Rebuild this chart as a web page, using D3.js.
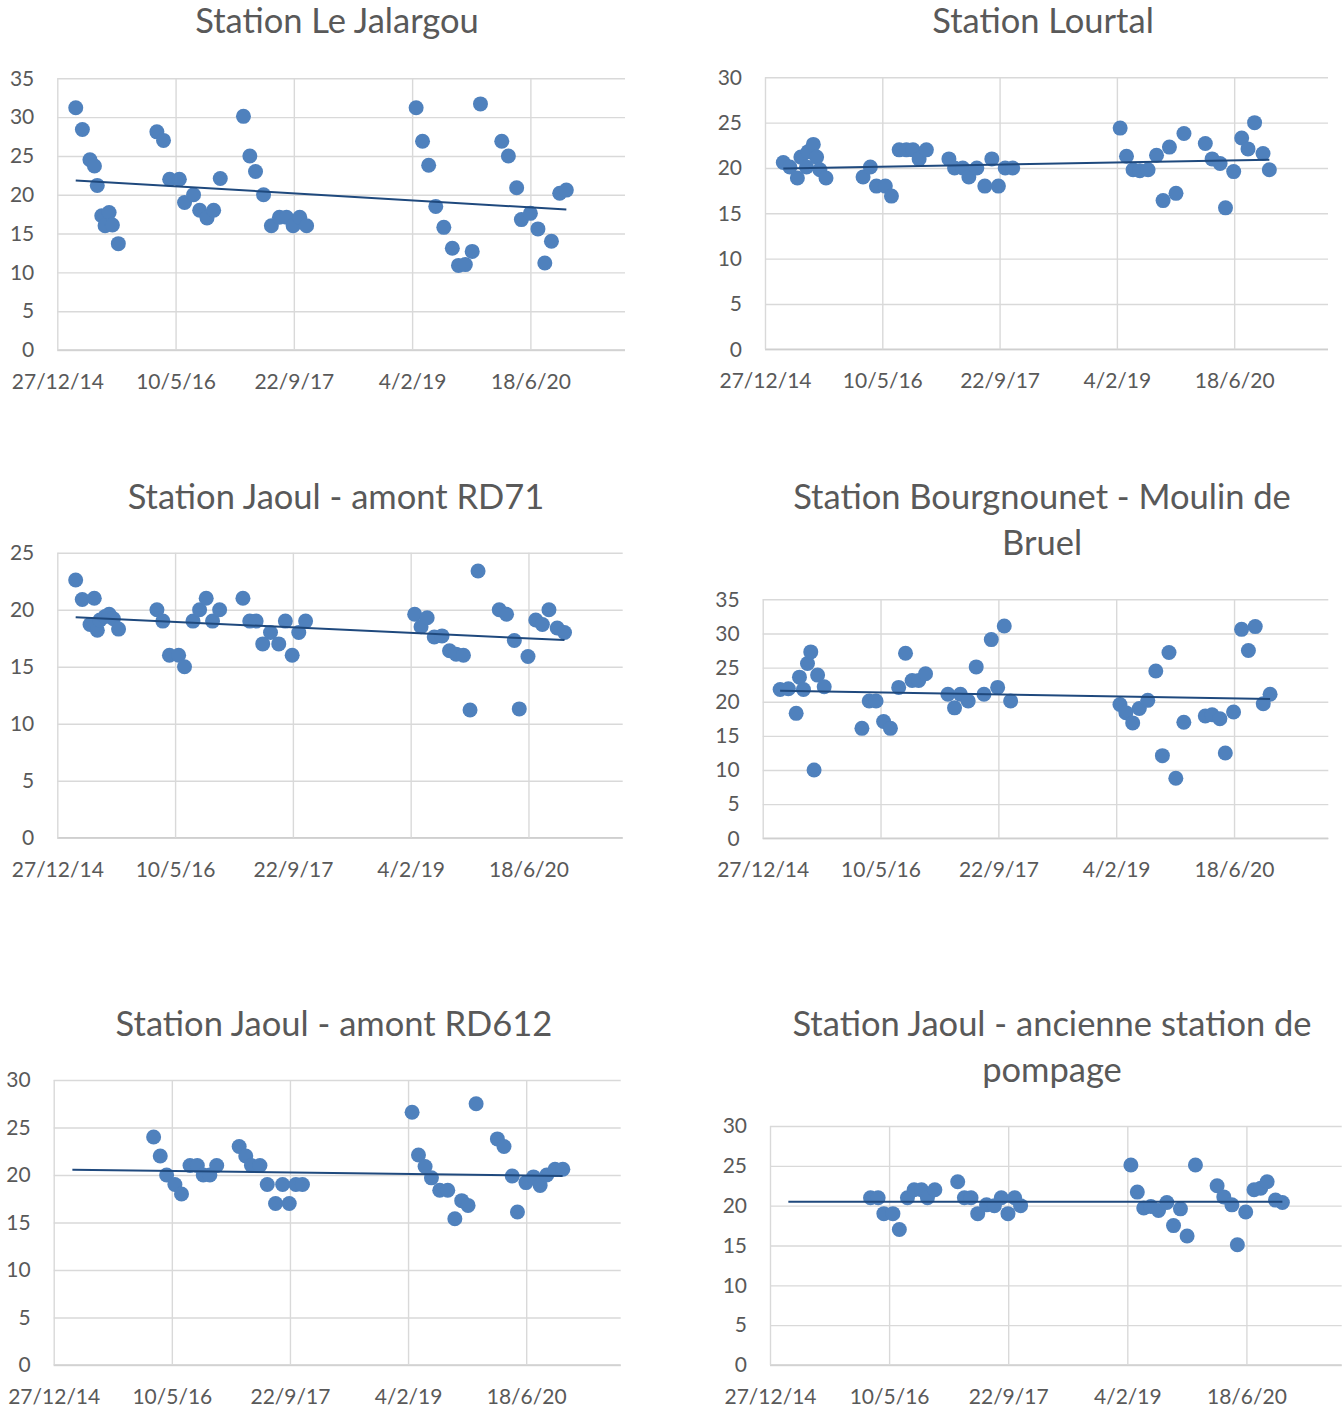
<!DOCTYPE html>
<html><head><meta charset="utf-8">
<script src="https://cdn.jsdelivr.net/npm/d3@7"></script>
<style>
html,body{margin:0;padding:0;background:#fff;}
svg{display:block;}
</style></head>
<body>
<svg id="chart" width="1342" height="1410"></svg>
<script>
// X values are Excel date serials (42000 = 27/12/2014)
const xTicks = [42000, 42500, 43000, 43500, 44000];
const xTickLabels = ["27/12/14", "10/5/16", "22/9/17", "4/2/19", "18/6/20"];
const xMin = 42000, xMax = 44400;

// Station Le Jalargou
const jalargouX = [42078,42106,42138,42157,42169,42188,42219,42202,42233,42258,
  42421,42449,42475,42516,42538,42576,42602,42633,42661,42689,
  42787,42814,42838,42872,42905,42939,42969,42997,43025,43054,
  43517,43544,43570,43600,43634,43670,43696,43725,43754,43789,
  43879,43907,43942,43962,44000,44032,44061,44089,44124,44152];
const jalargouY = [31.2,28.4,24.5,23.7,21.2,17.3,17.7,16.0,16.1,13.7,
  28.1,27.0,22.0,22.0,19.0,20.0,18.0,17.0,18.0,22.1,
  30.1,25.0,23.0,20.0,16.0,17.1,17.1,16.0,17.1,16.0,
  31.2,26.9,23.8,18.5,15.8,13.1,10.9,11.0,12.7,31.7,
  26.9,25.0,20.9,16.8,17.6,15.6,11.2,14.0,20.2,20.6];
const jalargouTrend = [[42078, 21.85], [44152, 18.1]];

// Station Lourtal
const lourtalX = [42078,42106,42138,42153,42177,42184,42206,42220,42234,42260,
  42418,42449,42475,42513,42539,42572,42603,42631,42657,42688,
  42784,42808,42843,42869,42903,42937,42967,42995,43024,43056,
  43514,43541,43569,43598,43633,43669,43697,43724,43752,43786,
  43877,43906,43940,43963,43998,44032,44059,44087,44123,44150];
const lourtalY = [20.6,20.1,18.9,21.2,20.1,21.8,22.6,21.2,19.8,18.9,
  19.0,20.1,18.0,18.0,16.9,22.0,22.0,22.0,21.0,22.0,
  21.0,20.0,20.0,19.0,20.0,18.0,21.0,18.0,20.0,20.0,
  24.4,21.3,19.8,19.7,19.8,21.4,16.4,22.3,17.2,23.8,
  22.7,21.0,20.5,15.6,19.6,23.3,22.1,25.0,21.6,19.8];
const lourtalTrend = [[42078, 19.94], [44150, 20.9]];

// Station Jaoul - amont RD71
const rd71X = [42078,42106,42157,42139,42170,42181,42203,42220,42238,42260,
  42423,42448,42476,42515,42540,42576,42604,42632,42659,42689,
  42788,42817,42844,42872,42905,42940,42968,42997,43025,43054,
  43517,43544,43570,43600,43633,43665,43693,43724,43752,43786,
  43876,43907,43940,43961,43998,44031,44059,44087,44122,44153];
const rd71Y = [22.6,20.9,21.0,18.7,18.2,19.1,19.4,19.6,19.2,18.3,
  20.0,19.0,16.0,16.0,15.0,19.0,20.0,21.0,19.0,20.0,
  21.0,19.0,19.0,17.0,18.0,17.0,19.0,16.0,18.0,19.0,
  19.6,18.5,19.3,17.6,17.7,16.4,16.1,16.0,11.2,23.4,
  20.0,19.6,17.3,11.3,15.9,19.1,18.7,20.0,18.4,18.0];
const rd71Trend = [[42078, 19.33], [44153, 17.34]];

// Station Bourgnounet - Moulin de Bruel
const bruelX = [42074,42109,42142,42156,42173,42190,42204,42218,42233,42261,
  42421,42452,42481,42513,42542,42577,42606,42634,42662,42691,
  42786,42814,42839,42872,42906,42939,42970,42997,43025,43052,
  43516,43541,43570,43598,43634,43668,43696,43724,43753,43787,
  43878,43907,43940,43963,43998,44032,44061,44090,44124,44153];
const bruelY = [21.8,21.9,18.3,23.6,21.8,25.6,27.3,10.0,23.9,22.2,
  16.1,20.1,20.1,17.1,16.1,22.1,27.1,23.1,23.1,24.1,
  21.1,19.1,21.1,20.1,25.1,21.1,29.1,22.1,31.1,20.1,
  19.6,18.4,16.9,19.0,20.2,24.5,12.1,27.2,8.8,17.0,
  17.9,18.1,17.5,12.5,18.5,30.6,27.5,31.0,19.7,21.1];
const bruelTrend = [[42074, 21.6], [44153, 20.4]];

// Station Jaoul - amont RD612
const rd612X = [42423,42451,42478,42513,42541,42577,42608,42633,42661,42690,
  42785,42813,42837,42873,42904,42939,42969,42997,43025,43053,
  43517,43544,43572,43599,43634,43668,43698,43727,43754,43788,
  43878,43906,43941,43963,43999,44031,44059,44087,44122,44155];
const rd612Y = [24.0,22.0,20.0,19.0,18.0,21.0,21.0,20.0,20.0,21.0,
  23.0,22.0,21.0,21.0,19.0,17.0,19.0,17.0,19.0,19.0,
  26.6,22.1,20.9,19.7,18.4,18.4,15.4,17.3,16.8,27.5,
  23.8,23.0,19.9,16.1,19.2,19.8,18.9,20.0,20.6,20.6];
const rd612Trend = [[42079, 20.55], [44154, 19.9]];

// Station Jaoul - ancienne station de pompage
const pompageX = [42422,42454,42478,42516,42543,42577,42605,42636,42661,42692,
  42788,42816,42844,42872,42909,42942,42971,42999,43027,43052,
  43515,43542,43569,43599,43631,43666,43694,43723,43751,43786,
  43877,43905,43939,43962,43997,44032,44060,44087,44122,44151];
const pompageY = [21.0,21.0,19.0,19.0,17.0,21.0,22.0,22.0,21.0,22.0,
  23.0,21.0,21.0,19.0,20.1,20.0,21.0,19.0,21.0,20.0,
  25.1,21.7,19.7,19.9,19.4,20.4,17.5,19.6,16.2,25.1,
  22.5,21.1,20.1,15.1,19.2,22.0,22.2,23.0,20.7,20.4];
const pompageTrend = [[42077, 20.5], [44151, 20.5]];

const titles = [
  ["Station Le Jalargou"],
  ["Station Lourtal"],
  ["Station Jaoul - amont RD71"],
  ["Station Bourgnounet - Moulin de", "Bruel"],
  ["Station Jaoul - amont RD612"],
  ["Station Jaoul - ancienne station de", "pompage"]
];
const yMaxes = [35, 30, 25, 35, 30, 30];

// Layout (pixel geometry of each chart)
const layout = [
  {x0: 57.3, x1: 625,   y0: 78.3,  y1: 350,    tx: 337,  ty: 33},
  {x0: 765,  x1: 1328,  y0: 77.3,  y1: 349.3,  tx: 1043, ty: 33},
  {x0: 57.3, x1: 622.7, y0: 552.7, y1: 837.7,  tx: 336,  ty: 509},
  {x0: 762.7,x1: 1328.3,y0: 599.3, y1: 838.3,  tx: 1042, ty: 509},
  {x0: 53.7, x1: 620.7, y0: 1080,  y1: 1365,   tx: 334,  ty: 1036},
  {x0: 770,  x1: 1341.7,y0: 1126,  y1: 1365,   tx: 1052, ty: 1036}
];
const series = [
  {xs: jalargouX, ys: jalargouY, trend: jalargouTrend},
  {xs: lourtalX, ys: lourtalY, trend: lourtalTrend},
  {xs: rd71X, ys: rd71Y, trend: rd71Trend},
  {xs: bruelX, ys: bruelY, trend: bruelTrend},
  {xs: rd612X, ys: rd612Y, trend: rd612Trend},
  {xs: pompageX, ys: pompageY, trend: pompageTrend}
];

const FONT = "Lato, 'Open Sans', sans-serif";
const textColor = "#595959";
const gridColor = "#d9d9d9";
const dotColor = "#4f81bd";
const trendColor = "#1f497d";

const svg = d3.select("#chart");

layout.forEach((L, i) => {
  const s = series[i];
  const x = d3.scaleLinear().domain([xMin, xMax]).range([L.x0, L.x1]);
  const y = d3.scaleLinear().domain([0, yMaxes[i]]).range([L.y1, L.y0]);
  const g = svg.append("g");

  // Y axis + horizontal gridlines
  const yAxis = d3.axisLeft(y)
    .tickValues(d3.range(0, yMaxes[i] + 1, 5))
    .tickSize(-(L.x1 - L.x0))
    .tickPadding(23)
    .tickFormat(d3.format("d"));
  const ya = g.append("g").attr("transform", `translate(${L.x0},0)`).call(yAxis);
  ya.select(".domain").remove();
  ya.selectAll("line").attr("stroke", gridColor).attr("stroke-width", 1.4);
  ya.selectAll("text").attr("fill", textColor).style("font-family", FONT).style("font-size", "21px");

  // X axis + vertical gridlines
  const xAxis = d3.axisBottom(x)
    .tickValues(xTicks)
    .tickSize(-(L.y1 - L.y0))
    .tickFormat((d, k) => xTickLabels[k]);
  const xa = g.append("g").attr("transform", `translate(0,${L.y1})`).call(xAxis);
  xa.select(".domain").attr("stroke", "#cfcfcf").attr("stroke-width", 1.6)
    .attr("d", `M${L.x0},0H${L.x1}`);
  xa.selectAll("line").attr("stroke", gridColor).attr("stroke-width", 1.4);
  xa.selectAll("text").attr("fill", textColor).attr("y", 39).attr("dy", 0)
    .style("font-family", FONT).style("font-size", "21px");

  // Points
  const pts = s.xs.map((d, k) => [d, s.ys[k]]);
  g.append("g").selectAll("circle").data(pts).join("circle")
    .attr("cx", d => x(d[0])).attr("cy", d => y(d[1])).attr("r", 7.5)
    .attr("fill", dotColor);

  // Trend line
  g.append("path").datum(s.trend)
    .attr("d", d3.line().x(d => x(d[0])).y(d => y(d[1])))
    .attr("fill", "none").attr("stroke", trendColor).attr("stroke-width", 2);

  // Title
  const t = g.append("text").attr("x", L.tx).attr("y", L.ty)
    .attr("text-anchor", "middle").attr("fill", textColor)
    .style("font-family", FONT).style("font-size", "34.5px");
  titles[i].forEach((line, k) => {
    t.append("tspan").attr("x", L.tx).attr("dy", k === 0 ? 0 : 46).text(line);
  });
});
</script>
</body></html>
